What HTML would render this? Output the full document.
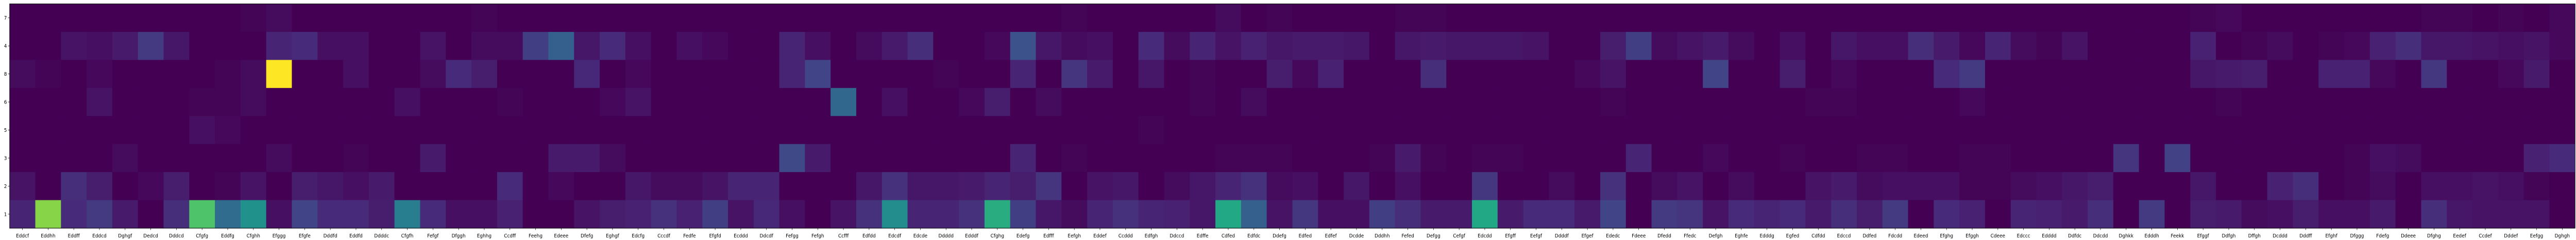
<!DOCTYPE html>
<html><head><meta charset="utf-8"><style>
html,body{margin:0;padding:0;background:#fff;width:100vw;height:100vh;overflow:hidden}
svg{display:block;width:100vw;height:100vh}
text{font-family:"DejaVu Sans","Liberation Sans",sans-serif;font-size:10px;fill:#000}
</style></head><body>
<svg id="chart" viewBox="0 0 5607 466" preserveAspectRatio="none" xmlns="http://www.w3.org/2000/svg"></svg>
<script>
const categories = ["Eddcf","Eddhh","Eddff","Eddcd","Dghgf","Dedcd","Dddcd","Cfgfg","Eddfg","Cfghh","Efggg","Efgfe","Dddfd","Eddfd","Ddddc","Cfgfh","Fefgf","Dfggh","Eghhg","Ccdff","Feehg","Edeee","Dfefg","Eghgf","Edcfg","Cccdf","Fedfe","Efgfd","Ecddd","Ddcdf","Fefgg","Fefgh","Ccfff","Edfdd","Edcdf","Edcde","Ddddd","Edddf","Cfghg","Edefg","Edfff","Eefgh","Eddef","Ccddd","Edfgh","Ddccd","Edffe","Cdfed","Edfdc","Ddefg","Edfed","Edfef","Dcdde","Dddhh","Fefed","Defgg","Cefgf","Edcdd","Efgff","Eefgf","Ddddf","Efgef","Ededc","Fdeee","Dfedd","Ffedc","Defgh","Eghfe","Edddg","Egfed","Cdfdd","Edccd","Ddfed","Fdcdd","Edeed","Efghg","Efggh","Cdeee","Edccc","Edddd","Ddfdc","Ddcdd","Dghkk","Edddh","Feekk","Efggf","Ddfgh","Dffgh","Dcddd","Dddff","Efghf","Dfggg","Fdefg","Ddeee","Dfghg","Eedef","Ccdef","Dddef","Eefgg","Dghgh"];
const rowLabels = ["7","4","8","6","5","3","2","1"];
const row7 = [0,0,0,0,0,0,0,0,0,0.01,0.03,0,0,0,0,0,0,0,0.01,0,0,0,0,0,0,0,0,0,0,0,0,0,0,0,0,0,0,0,0,0,0,0.01,0,0,0,0,0,0.03,0,0.01,0,0,0,0,0.01,0.01,0,0,0,0,0,0,0,0,0,0,0,0,0,0,0,0,0,0,0,0,0,0,0,0,0,0,0,0,0,0.01,0.02,0,0,0,0,0,0,0,0.01,0.01,0,0.01,0,0.02];
const row4 = [0,0,0.05,0.04,0.07,0.17,0.06,0,0,0,0.1,0.12,0.04,0.04,0,0,0.05,0,0.03,0.03,0.18,0.3,0.06,0.12,0.04,0,0.04,0.02,0,0,0.1,0.04,0,0.03,0.07,0.13,0,0,0.02,0.25,0.06,0.03,0.04,0,0.12,0.03,0.1,0.05,0.09,0.06,0.07,0.07,0.06,0,0.06,0.07,0.06,0.06,0.06,0.05,0,0,0.08,0.18,0.03,0.05,0.07,0.03,0,0.04,0,0.06,0.04,0.04,0.13,0.07,0.02,0.1,0.03,0.01,0.05,0,0,0,0,0.09,0,0.01,0.03,0,0.01,0.02,0.09,0.13,0.06,0.06,0.05,0.04,0.05,0.02];
const row8 = [0.03,0.01,0,0.02,0,0,0,0,0.01,0.03,1,0,0,0.04,0,0,0.03,0.12,0.08,0,0,0,0.11,0,0.02,0,0,0,0,0,0.1,0.2,0,0,0,0,0.01,0,0,0.1,0,0.15,0.07,0,0.06,0,0.01,0,0,0.08,0.02,0.09,0,0,0,0.13,0,0,0,0,0,0.02,0.05,0,0,0,0.2,0,0,0.08,0,0.02,0,0,0,0.12,0.17,0,0,0,0,0,0,0,0,0.06,0.07,0.08,0,0,0.09,0.09,0.02,0,0.16,0,0,0.02,0.07,0];
const row6 = [0,0,0,0.05,0,0,0,0.01,0.01,0.03,0,0,0,0,0,0.04,0,0,0,0.01,0,0,0,0.02,0.05,0,0,0,0,0,0,0,0.33,0,0.04,0,0,0.02,0.08,0,0.03,0,0,0,0,0,0.01,0,0.03,0,0,0,0,0,0,0,0,0,0,0,0,0,0.01,0,0,0,0,0,0,0,0.01,0.01,0,0,0,0,0.02,0,0,0,0,0,0,0,0,0,0.01,0,0,0,0,0,0,0,0,0,0,0,0,0];
const row5 = [0,0,0,0,0,0,0,0.04,0.02,0,0,0,0,0,0,0,0,0,0,0,0,0,0,0,0,0,0,0,0,0,0,0,0,0,0,0,0,0,0,0,0,0,0,0,0.01,0,0,0,0,0,0,0,0,0,0,0,0,0,0,0,0,0,0,0,0,0,0,0,0,0,0,0,0,0,0,0,0,0,0,0,0,0,0,0,0,0,0,0,0,0,0,0,0,0,0,0,0,0,0,0];
const row3 = [0,0,0,0,0.03,0,0,0,0,0,0.03,0,0,0.01,0,0,0.07,0,0,0,0,0.07,0.07,0.03,0,0,0,0,0,0,0.22,0.07,0,0,0,0,0,0,0,0.1,0,0.01,0,0,0,0,0,0.01,0.01,0.01,0,0,0,0.01,0.07,0.01,0,0.01,0.01,0,0,0,0,0.1,0,0,0.02,0,0,0.01,0,0,0.01,0.01,0,0,0.01,0.01,0,0,0,0,0.15,0,0.19,0,0,0,0,0,0,0.01,0.04,0.03,0,0,0,0,0.09,0.12];
const row2 = [0.05,0,0.13,0.08,0,0.02,0.08,0,0.01,0.05,0,0.08,0.06,0.04,0.07,0,0,0,0,0.12,0,0.02,0,0,0.06,0.03,0.03,0.05,0.1,0.1,0,0,0,0.06,0.14,0.06,0.06,0.07,0.1,0.08,0.15,0,0.05,0.06,0,0.03,0.06,0.1,0.14,0.03,0.04,0,0.06,0,0.04,0,0,0.16,0,0,0.03,0,0.14,0,0.03,0.05,0,0.03,0,0,0.05,0.07,0.03,0.04,0.04,0.04,0.01,0.01,0.03,0.04,0.06,0.08,0,0,0,0.06,0,0,0.09,0.13,0,0.01,0.03,0,0.04,0.04,0.05,0.04,0.01,0];
const row1 = [0.1,0.82,0.12,0.17,0.07,0,0.13,0.72,0.35,0.5,0.04,0.2,0.12,0.12,0.08,0.42,0.12,0.04,0.04,0.09,0,0,0.05,0.08,0.09,0.14,0.09,0.18,0.05,0.11,0.04,0,0.05,0.14,0.48,0.1,0.1,0.14,0.62,0.18,0.06,0.03,0.1,0.14,0.1,0.09,0.06,0.6,0.3,0.05,0.16,0.04,0.04,0.18,0.13,0.07,0.07,0.6,0.07,0.12,0.12,0.07,0.2,0,0.17,0.15,0.05,0.12,0.1,0.12,0.07,0.13,0.08,0.17,0,0.12,0.09,0,0.1,0.09,0.07,0.13,0,0.17,0,0.08,0.07,0.03,0.04,0.08,0.04,0.04,0.07,0,0.13,0.06,0.05,0.05,0.05,0];
const rows = [row7,row4,row8,row6,row5,row3,row2,row1];

const plotLeft = 21, plotRight = 5605, plotTop = 7.5, plotBottom = 443;
const cw = (plotRight-plotLeft)/categories.length, rh = (plotBottom-plotTop)/rowLabels.length;
function xPos(i){return plotLeft + i*cw;}
function yPos(j){return plotTop + j*rh;}
const stops=[[0,68,1,84],[0.1,72,36,117],[0.2,65,68,135],[0.3,53,95,141],[0.4,42,120,142],[0.5,33,145,140],[0.6,34,168,132],[0.7,68,191,112],[0.8,122,209,81],[0.9,189,223,38],[1,253,231,37]];
function viridis(v){v=Math.max(0,Math.min(1,v));for(let k=1;k<stops.length;k++){if(v<=stops[k][0]){const a=stops[k-1],b=stops[k],t=(v-a[0])/(b[0]-a[0]);return `rgb(${Math.round(a[1]+t*(b[1]-a[1]))},${Math.round(a[2]+t*(b[2]-a[2]))},${Math.round(a[3]+t*(b[3]-a[3]))})`;}}return 'rgb(253,231,37)';}
const NS="http://www.w3.org/2000/svg", svgEl=document.getElementById('chart');
function mk(tag,attrs){const e=document.createElementNS(NS,tag);for(const k in attrs)e.setAttribute(k,attrs[k]);return e;}
const cellGroup=mk('g',{});


svgEl.appendChild(cellGroup);
rows.forEach((r,j)=>{r.forEach((v,i)=>{
  const w=Math.min(cw+0.6, plotRight-xPos(i));
  const c=mk('rect',{x:xPos(i),y:yPos(j),width:w,height:rh+0.6,fill:viridis(v)});
  
  
  cellGroup.appendChild(c);});});
const frame=mk('rect',{x:plotLeft,y:plotTop,width:plotRight-plotLeft,height:plotBottom-plotTop,fill:'none',stroke:'#000','stroke-width':1});


svgEl.appendChild(frame);
categories.forEach((c,i)=>{
  const cx=xPos(i)+cw/2;
  const t=mk('line',{x1:cx,x2:cx,y1:plotBottom,y2:plotBottom+3.5,stroke:'#000','stroke-width':0.8});
  
  
  svgEl.appendChild(t);
  const l=mk('text',{x:cx,y:plotBottom+18,'text-anchor':'middle'});
  l.textContent=c;
  
  
  svgEl.appendChild(l);});
rowLabels.forEach((r,j)=>{
  const cy=yPos(j)+rh/2;
  const t=mk('line',{x1:plotLeft-3.5,x2:plotLeft,y1:cy,y2:cy,stroke:'#000','stroke-width':0.8});
  
  
  svgEl.appendChild(t);
  const l=mk('text',{x:plotLeft-6,y:cy+3.5,'text-anchor':'end'});
  l.textContent=r;
  
  
  svgEl.appendChild(l);});
</script>
</body></html>
